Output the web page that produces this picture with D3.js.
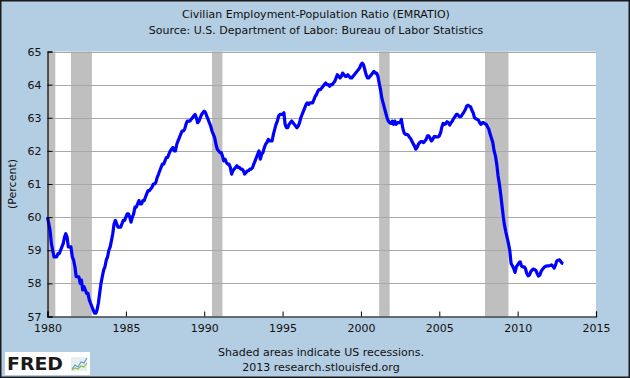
<!DOCTYPE html>
<html><head><meta charset="utf-8">
<script src="https://cdn.jsdelivr.net/npm/d3@7"></script>
<style>html,body{margin:0;padding:0;background:#b3cde3;}svg{display:block;}</style>
</head><body>
<script>
// ---- data (monthly, Jan 1980 – Dec 2012) ----
const startYear = 1980;
const emratio1980s = [
 60.0,59.8,59.6,59.2,59.0,58.8,58.8,58.8,58.9,58.9,59.0,59.1,
 59.2,59.4,59.5,59.4,59.1,59.1,59.1,58.8,58.7,58.5,58.2,58.2,
 58.2,58.0,58.1,57.8,57.9,57.8,57.7,57.7,57.5,57.4,57.3,57.2,
 57.1,57.1,57.2,57.4,57.7,58.0,58.2,58.4,58.5,58.7,58.8,59.0,
 59.1,59.3,59.5,59.8,59.9,59.8,59.7,59.7,59.7,59.8,59.9,59.9,
 60.0,60.1,60.1,60.0,59.85,60.0,60.1,60.3,60.3,60.4,60.5,60.4,
 60.4,60.5,60.5,60.6,60.7,60.8,60.8,60.85,60.9,61.0,61.0,61.05,
 61.2,61.3,61.4,61.5,61.6,61.6,61.7,61.8,61.8,61.9,62.0,62.05,
 62.1,62.0,62.0,62.2,62.3,62.4,62.5,62.6,62.6,62.65,62.8,62.9,
 62.9,62.9,62.95,63.0,63.05,63.1,63.0,62.85,62.9,63.0,63.1,63.15];
const emratio1990s = [
 63.2,63.15,63.05,62.95,62.85,62.75,62.6,62.5,62.4,62.2,62.05,62.0,
 61.95,61.95,61.85,61.7,61.75,61.65,61.6,61.6,61.5,61.3,61.4,61.45,
 61.5,61.55,61.5,61.5,61.45,61.45,61.4,61.3,61.35,61.4,61.4,61.45,
 61.45,61.5,61.6,61.7,61.8,61.9,62.0,61.75,61.9,61.95,62.1,62.2,
 62.25,62.35,62.3,62.3,62.3,62.5,62.65,62.8,62.9,63.05,63.1,63.1,
 63.1,63.15,62.8,62.7,62.7,62.8,62.85,62.9,62.85,62.8,62.75,62.7,
 62.75,62.85,63.0,63.1,63.2,63.3,63.4,63.45,63.4,63.45,63.45,63.45,
 63.55,63.65,63.7,63.8,63.85,63.85,63.9,63.95,64.0,64.05,64.0,64.0,
 63.95,64.0,64.0,64.05,64.1,64.2,64.3,64.25,64.2,64.25,64.35,64.3,
 64.25,64.25,64.3,64.25,64.2,64.2,64.25,64.3,64.35,64.4,64.45,64.5];
const emratio2000s = [
 64.6,64.65,64.6,64.45,64.3,64.2,64.2,64.25,64.3,64.35,64.4,64.35,
 64.35,64.25,64.05,63.85,63.6,63.45,63.3,63.15,63.0,62.9,62.85,62.83,
 62.9,62.8,62.9,62.8,62.85,62.85,62.85,62.95,62.7,62.55,62.5,62.5,
 62.48,62.42,62.38,62.3,62.22,62.15,62.05,62.1,62.2,62.25,62.28,62.28,
 62.25,62.3,62.35,62.45,62.45,62.38,62.3,62.35,62.43,62.43,62.42,62.42,
 62.45,62.55,62.72,62.83,62.8,62.82,62.88,62.85,62.78,62.85,62.9,62.98,
 63.03,63.1,63.1,63.05,63.03,63.05,63.12,63.18,63.25,63.35,63.38,63.35,
 63.33,63.22,63.15,63.0,62.97,62.95,62.93,62.85,62.8,62.85,62.85,62.82,
 62.8,62.72,62.65,62.5,62.38,62.25,62.0,61.85,61.6,61.25,61.0,60.7,
 60.35,60.0,59.75,59.55,59.38,59.2,59.0,58.6,58.53,58.45,58.33,58.5];
const emratio2010s = [
 58.56,58.62,58.65,58.52,58.5,58.5,58.45,58.3,58.23,58.25,58.35,58.4,
 58.43,58.42,58.39,58.3,58.22,58.25,58.36,58.42,58.47,58.51,58.52,58.53,
 58.53,58.54,58.56,58.52,58.46,58.55,58.68,58.7,58.71,58.66,58.61,58.6];
const recessionStarts = ["1980-01","1981-07","1990-07","2001-03","2007-12"];
const recessionEnds   = ["1980-07","1982-11","1991-03","2001-11","2009-06"];
const yTicks = [57,58,59,60,61,62,63,64,65];
const xTickYears = [1980,1985,1990,1995,2000,2005,2010,2015];
const titleLines = ["Civilian Employment-Population Ratio (EMRATIO)",
                    "Source: U.S. Department of Labor: Bureau of Labor Statistics"];
const yAxisTitle = "(Percent)";
const footLines = ["Shaded areas indicate US recessions.", "2013 research.stlouisfed.org"];

// ---- build ----
const values = [...emratio1980s, ...emratio1990s, ...emratio2000s, ...emratio2010s];
const series = values.map((v,i)=>({date:new Date(startYear + Math.floor(i/12), i%12, 1), v}));
const parseM = d3.timeParse("%Y-%m");

const W = 630, H = 378;
const svg = d3.select("body").append("svg").attr("width",W).attr("height",H);
const font = "'DejaVu Sans', Verdana, sans-serif";

svg.append("rect").attr("x",0.75).attr("y",0.75).attr("width",W-1.5).attr("height",H-1.5)
  .attr("fill","#b3cde3").attr("stroke","#1a1a1a").attr("stroke-width",1.5);

const x = d3.scaleTime().domain([new Date(1980,0,1), new Date(2015,0,1)]).range([47.5, 596]);
const y = d3.scaleLinear().domain([57,65]).range([316.5, 51.5]);

const plot = svg.append("g");
plot.append("rect").attr("x",x.range()[0]).attr("y",y(65)).attr("width",x.range()[1]-x.range()[0])
  .attr("height",y(57)-y(65)).attr("fill","#fff");

// recessions
plot.selectAll("rect.rec").data(recessionStarts.map((s,i)=>[parseM(s),parseM(recessionEnds[i])]))
  .join("rect").attr("class","rec")
  .attr("x",d=>x(d[0])).attr("width",d=>x(d[1])-x(d[0]))
  .attr("y",y(65)).attr("height",y(57)-y(65)).attr("fill","#bfbfbf");

// gridlines
plot.selectAll("line.grid").data(yTicks.filter(t=>t>57)).join("line").attr("class","grid")
  .attr("x1",x.range()[0]).attr("x2",x.range()[1])
  .attr("y1",d=>Math.round(y(d))+0.5).attr("y2",d=>Math.round(y(d))+0.5)
  .attr("stroke","#a8a8a8").attr("stroke-width",1);

// line
const line = d3.line().x(d=>x(d.date)).y(d=>y(d.v));
plot.append("path").datum(series).attr("d",line).attr("fill","none")
  .attr("stroke","#0000ff").attr("stroke-width",3.2).attr("stroke-linejoin","round");

// axes
const yAxis = d3.axisLeft(y).tickValues(yTicks).tickSize(-5).tickPadding(6).tickFormat(d3.format("d"));
const gy = svg.append("g").attr("transform",`translate(${x.range()[0]},0)`).call(yAxis);
const xAxis = d3.axisBottom(x).tickValues(xTickYears.map(v=>new Date(v,0,1))).tickSize(-5).tickPadding(8)
  .tickFormat(d3.timeFormat("%Y"));
const gx = svg.append("g").attr("transform",`translate(0,${y(57)})`).call(xAxis);
[gx,gy].forEach(g=>{
  g.select(".domain").attr("stroke","#000").attr("stroke-width",1.2);
  g.selectAll(".tick line").attr("stroke","#000");
  g.selectAll("text").attr("font-family",font).attr("font-size",11).attr("fill","#111");
});

// titles
svg.selectAll("text.title").data(titleLines).join("text").attr("class","title")
  .attr("x",316).attr("y",(d,i)=>18+i*16).attr("text-anchor","middle")
  .attr("font-family",font).attr("font-size",11).attr("fill","#111").text(d=>d);

svg.append("text").attr("transform",`translate(16,${(y(57)+y(65))/2}) rotate(-90)`)
  .attr("text-anchor","middle").attr("font-family",font).attr("font-size",11).attr("fill","#111").text(yAxisTitle);

svg.selectAll("text.foot").data(footLines).join("text").attr("class","foot")
  .attr("x",321).attr("y",(d,i)=>356+i*15).attr("text-anchor","middle")
  .attr("font-family",font).attr("font-size",11).attr("fill","#111").text(d=>d);

// FRED logo
const logo = svg.append("g");
logo.append("rect").attr("x",5).attr("y",352).attr("width",85).attr("height",23).attr("fill","#fff");
logo.append("text").attr("x",7).attr("y",370).attr("font-family","'DejaVu Sans', sans-serif")
  .attr("font-weight","bold").attr("font-size",18).attr("fill","#1a1a1a")
  .attr("textLength",56).attr("lengthAdjust","spacingAndGlyphs").text("FRED");
logo.append("rect").attr("x",71).attr("y",357).attr("width",16).attr("height",14).attr("fill","#e8eef0");
logo.append("path").attr("d","M72,369 L75,365 L78,367 L81,362 L84,363 L87,358")
  .attr("fill","none").attr("stroke","#5aa0d8").attr("stroke-width",1.2);
logo.append("path").attr("d","M72,370 L75,368 L78,369 L81,366 L84,367 L87,363")
  .attr("fill","none").attr("stroke","#8cc04a").attr("stroke-width",1.2);
</script>
</body></html>
